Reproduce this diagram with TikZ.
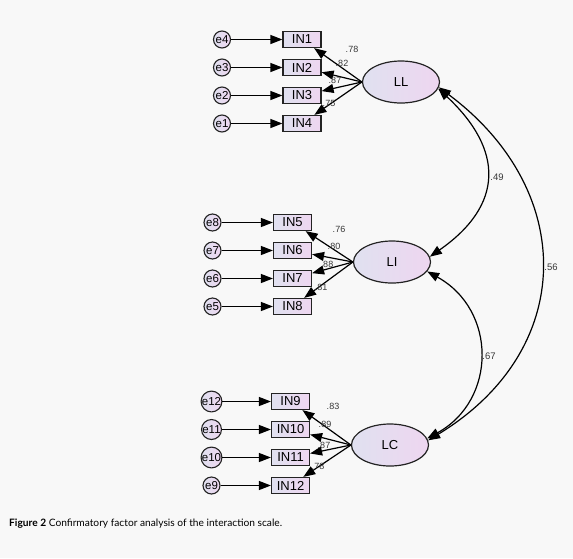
\documentclass[tikz,border=0pt]{standalone}
\usepackage{fontspec}
\setmainfont{Liberation Sans}
\newfontfamily\capfont{Lato}
\usetikzlibrary{shapes.geometric,arrows.meta}
\definecolor{bgc}{RGB}{248,248,248}
\definecolor{fillL}{RGB}{224,225,240}
\definecolor{fillR}{RGB}{238,214,240}
\definecolor{edgec}{RGB}{35,35,35}
\definecolor{labc}{RGB}{55,55,55}
\tikzset{
  shadefill/.style={left color=fillL, right color=fillR},
  errnode/.style={circle, draw=edgec, line width=1.1pt, shadefill, minimum size=17pt, inner sep=0pt, font=\fontsize{11.5}{11.5}\selectfont},
  obsnode/.style={rectangle, draw=edgec, line width=1.2pt, shadefill, minimum width=38pt, minimum height=16pt, inner sep=0pt, font=\fontsize{13}{13}\selectfont},
  latnode/.style={ellipse, draw=edgec, line width=1.2pt, shadefill, minimum width=77pt, minimum height=42pt, inner sep=0pt, font=\fontsize{13}{13}\selectfont},
  arr/.style={-{Triangle[length=12pt,width=9pt]}, line width=1.2pt, draw=black},
  covarr/.style={{Triangle[length=12pt,width=9pt]}-{Triangle[length=12pt,width=9pt]}, line width=1.2pt, draw=black},
  ldlab/.style={font=\fontsize{9}{9}\selectfont, text=labc, inner sep=0pt},
  covlab/.style={font=\fontsize{9.5}{9.5}\selectfont, text=labc, inner sep=0pt},
}
\begin{document}
\begin{tikzpicture}[x=1pt,y=-1pt]
\fill[bgc] (0,0) rectangle (573,558);
\useasboundingbox (0,0) rectangle (573,558);

% Latent factors
\node[latnode] (LL) at (401,82) {LL};
\node[latnode] (LI) at (392,262) {LI};
\node[latnode] (LC) at (390,445) {LC};

% Top group
\node[errnode] (e4) at (222,39.5) {e4};
\node[errnode] (e3) at (222,67.5) {e3};
\node[errnode] (e2) at (222,95.5) {e2};
\node[errnode] (e1) at (222,123.5) {e1};
\node[obsnode] (IN1) at (302,39.5) {IN1};
\node[obsnode] (IN2) at (302,67.5) {IN2};
\node[obsnode] (IN3) at (302,95.5) {IN3};
\node[obsnode] (IN4) at (302,123.5) {IN4};

% Middle group
\node[errnode] (e8) at (212.5,222.5) {e8};
\node[errnode] (e7) at (212.5,250.5) {e7};
\node[errnode] (e6) at (212.5,278.5) {e6};
\node[errnode] (e5) at (212.5,306.5) {e5};
\node[obsnode] (IN5) at (292.5,222.5) {IN5};
\node[obsnode] (IN6) at (292.5,250.5) {IN6};
\node[obsnode] (IN7) at (292.5,278.5) {IN7};
\node[obsnode] (IN8) at (292.5,306.5) {IN8};

% Bottom group
\node[errnode] (e12) at (211.5,401.5) {e12};
\node[errnode] (e11) at (211.5,429.5) {e11};
\node[errnode] (e10) at (211.5,457.5) {e10};
\node[errnode] (e9) at (211.5,485.5) {e9};
\node[obsnode] (IN9) at (290.5,401.5) {IN9};
\node[obsnode] (IN10) at (290.5,429.5) {IN10};
\node[obsnode] (IN11) at (290.5,457.5) {IN11};
\node[obsnode] (IN12) at (290.5,485.5) {IN12};

% Error arrows
\foreach \e/\o in {e4/IN1,e3/IN2,e2/IN3,e1/IN4,e8/IN5,e7/IN6,e6/IN7,e5/IN8,e12/IN9,e11/IN10,e10/IN11,e9/IN12}
  \draw[arr] (\e) -- (\o);

% Loadings
\foreach \o in {IN1,IN2,IN3,IN4} \draw[arr] (LL.west) -- (\o);
\foreach \o in {IN5,IN6,IN7,IN8} \draw[arr] (LI.west) -- (\o);
\foreach \o in {IN9,IN10,IN11,IN12} \draw[arr] (LC.west) -- (\o);

% Loading labels
\node[ldlab] (l1) at (352,49) {.78};
\node[ldlab] (l2) at (342,63) {.82};
\node[ldlab] (l3) at (335,80) {.87};
\node[ldlab] (l4) at (329,103) {.75};
\node[ldlab] (l5) at (339,229) {.76};
\node[ldlab] (l6) at (334,246) {.80};
\node[ldlab] (l7) at (327,264) {.88};
\node[ldlab] (l8) at (321,287) {.81};
\node[ldlab] (l9) at (333,406) {.83};
\node[ldlab] (l10) at (325,424) {.89};
\node[ldlab] (l11) at (324,445) {.87};
\node[ldlab] (l12) at (318,466) {.78};

% Covariances
\draw[covarr] (LL.-10) .. controls (504,150) and (504,205) .. (LI.8);
\draw[covarr] (LI.-15) .. controls (497,310) and (497,400) .. (LC.10);
\draw[covarr] (LL.-8) .. controls (577,190) and (577,350) .. (LC.7);
\node[covlab] (c1) at (497,177) {.49};
\node[covlab] (c2) at (489,356) {.67};
\node[covlab] (c3) at (551,267) {.56};

% Caption
\node[anchor=west, inner sep=0pt, font=\capfont\fontsize{10.2}{12}\selectfont] (cap) at (9,524) {\textbf{Figure 2} Confirmatory factor analysis of the interaction scale.};
\end{tikzpicture}
\end{document}
